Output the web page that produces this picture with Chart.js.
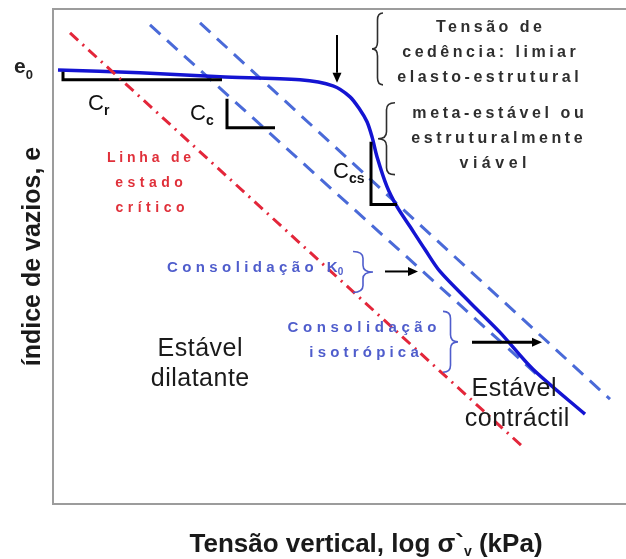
<!DOCTYPE html>
<html>
<head>
<meta charset="utf-8">
<script src="https://cdn.jsdelivr.net/npm/chart.js@4.4.1/dist/chart.umd.min.js"></script>
<style>
  html, body { margin: 0; padding: 0; background: #fff; }
  #wrap { width: 626px; height: 559px; }
</style>
</head>
<body>
<div id="wrap"><canvas id="curva"></canvas></div>
<script>
// curva de compressibilidade (x = log σ'v, y = e), unidades do esquema
const curveX = [5, 87, 167, 247, 280, 297, 307, 314, 319, 324, 334, 344, 357, 372, 387, 417, 447, 480, 532];
const curveY = [435, 432, 428, 425, 419, 408, 395, 383, 368, 348, 318, 298, 278, 255, 233, 202, 172, 135, 90];

// linhas de consolidação e de estado crítico
const k0X = [97, 487];
const k0Y = [480, 127];
const isoX = [147, 557];
const isoY = [482, 105];
const cslX = [17, 469];
const cslY = [472, 58];

// triângulos de inclinação Cr, Cc, Ccs
const crX = [10, 10, 169];
const crY = [433, 425, 425];
const ccX = [174, 174, 222];
const ccY = [406, 377, 377];
const ccsX = [318, 318, 344];
const ccsY = [363, 300, 300];

const FONT = "'Liberation Sans', Arial, sans-serif";

function pts(xs, ys) {
  return xs.map((v, i) => ({ x: v, y: ys[i] }));
}

function el(id) {
  return document.getElementById(id);
}

function lineDs(xs, ys, color, width, dash, tension) {
  return {
    data: pts(xs, ys),
    showLine: true,
    borderColor: color,
    borderWidth: width,
    borderDash: dash || [],
    pointRadius: 0,
    tension: tension || 0,
    fill: false
  };
}

function text(ctx, str, px, py, font, color, align, spacing) {
  ctx.save();
  ctx.font = font;
  ctx.fillStyle = color;
  ctx.textBaseline = "alphabetic";
  ctx.letterSpacing = (spacing || 0) + "px";
  const w = ctx.measureText(str).width;
  let x0 = px;
  if (align === "center") x0 = px - (w - (spacing || 0)) / 2;
  ctx.textAlign = "left";
  ctx.fillText(str, x0, py);
  ctx.restore();
  return x0 + w;
}

// letra com índice (e0, Cr, Cc ...)
function withSub(ctx, main, sub, px, py, font, subFont, color, drop) {
  const end = text(ctx, main, px, py, font, color, "left", 0);
  text(ctx, sub, end, py + drop, subFont, color, "left", 0);
}

function brace(ctx, xEnd, xTip, y1, y2, color) {
  const m = (y1 + y2) / 2;
  const xm = (xEnd + xTip) / 2;
  const r = Math.min(7, (y2 - y1) / 6);
  ctx.save();
  ctx.strokeStyle = color;
  ctx.lineWidth = 1.6;
  ctx.beginPath();
  ctx.moveTo(xEnd, y1);
  ctx.quadraticCurveTo(xm, y1, xm, y1 + r);
  ctx.lineTo(xm, m - r);
  ctx.quadraticCurveTo(xm, m, xTip, m);
  ctx.quadraticCurveTo(xm, m, xm, m + r);
  ctx.lineTo(xm, y2 - r);
  ctx.quadraticCurveTo(xm, y2, xEnd, y2);
  ctx.stroke();
  ctx.restore();
}

function arrow(ctx, x1, y1, x2, y2, width) {
  const ang = Math.atan2(y2 - y1, x2 - x1);
  const L = 10, H = 4.5;
  ctx.save();
  ctx.strokeStyle = "#000";
  ctx.fillStyle = "#000";
  ctx.lineWidth = width;
  ctx.beginPath();
  ctx.moveTo(x1, y1);
  ctx.lineTo(x2 - L * Math.cos(ang), y2 - L * Math.sin(ang));
  ctx.stroke();
  ctx.translate(x2, y2);
  ctx.rotate(ang);
  ctx.beginPath();
  ctx.moveTo(0, 0);
  ctx.lineTo(-L, -H);
  ctx.lineTo(-L, H);
  ctx.closePath();
  ctx.fill();
  ctx.restore();
}

const annotations = {
  id: "annotations",
  afterDatasetsDraw(chart) {
    const { ctx, chartArea: a, scales } = chart;
    const X = v => scales.x.getPixelForValue(v);
    const Y = v => scales.y.getPixelForValue(v);
    const red = "#e0303a";
    const blue = "#4f5dcc";
    const dark = "#2e2e2e";
    const ink = "#111";

    // e0
    withSub(ctx, "e", "0", X(-39), Y(432), "bold 21px " + FONT, "bold 13px " + FONT, "#222", 6);

    // Cr, Cc, Ccs
    const fc = "22px " + FONT, fs = "bold 14px " + FONT;
    withSub(ctx, "C", "r", X(35), Y(395), fc, fs, ink, 5);
    withSub(ctx, "C", "c", X(137), Y(385), fc, fs, ink, 5);
    withSub(ctx, "C", "cs", X(280), Y(327), fc, fs, ink, 5);

    // linha de estado crítico
    const fr = "bold 14px " + FONT;
    text(ctx, "Linha de", X(96), Y(343), fr, red, "center", 3.8);
    text(ctx, "estado", X(96), Y(318), fr, red, "center", 4.5);
    text(ctx, "crítico", X(97), Y(293), fr, red, "center", 4.5);

    // tensão de cedência
    const fd = "bold 16px " + FONT;
    text(ctx, "Tensão de", X(436), Y(473), fd, dark, "center", 3.5);
    text(ctx, "cedência: limiar", X(436), Y(448), fd, dark, "center", 3.5);
    text(ctx, "elasto-estrutural", X(435), Y(423), fd, dark, "center", 3.5);
    text(ctx, "meta-estável ou", X(445), Y(387), fd, dark, "center", 3.6);
    text(ctx, "estruturalmente", X(444), Y(362), fd, dark, "center", 3.6);
    text(ctx, "viável", X(440), Y(337), fd, dark, "center", 4.5);

    // consolidação
    const fb = "bold 15px " + FONT;
    const endK = text(ctx, "Consolidação ", X(114), Y(232), fb, blue, "left", 4.4);
    text(ctx, "K", endK, Y(232), fb, blue, "left", 0);
    text(ctx, "0", endK + 11, Y(232) + 3, "bold 10px " + FONT, blue, "left", 0);
    text(ctx, "Consolidação", X(309), Y(172), fb, blue, "center", 4.6);
    text(ctx, "isotrópica", X(311), Y(147), fb, blue, "center", 4.2);

    // regiões
    const fe = "25px " + FONT;
    text(ctx, "Estável", X(147), Y(148), fe, "#1a1a1a", "center", 0.5);
    text(ctx, "dilatante", X(147), Y(118), fe, "#1a1a1a", "center", 0.5);
    text(ctx, "Estável", X(461), Y(108), fe, "#1a1a1a", "center", 0.5);
    text(ctx, "contráctil", X(464), Y(78), fe, "#1a1a1a", "center", 0.5);

    // chavetas
    brace(ctx, X(330), X(319), Y(492), Y(420), dark);
    brace(ctx, X(342), X(325), Y(402), Y(330), dark);
    brace(ctx, X(300), X(320), Y(253), Y(212), blue);
    brace(ctx, X(390), X(405), Y(193), Y(132), blue);

    // setas
    arrow(ctx, X(284), Y(470), X(284), Y(422), 2);
    arrow(ctx, X(332), Y(233), X(365), Y(233), 2);
    arrow(ctx, X(419), Y(162), X(489), Y(162), 3);

    // títulos dos eixos
    ctx.save();
    ctx.translate(a.left - 22, (a.top + a.bottom) / 2);
    ctx.rotate(-Math.PI / 2);
    text(ctx, "índice de vazios, e", 0, 9, "bold 25px " + FONT, "#1a1a1a", "center", 0);
    ctx.restore();

    const ft = "bold 26px " + FONT;
    const fv = "bold 14px " + FONT;
    const p1 = "Tensão vertical, log σ`";
    const p3 = " (kPa)";
    ctx.save();
    ctx.font = ft;
    const w1 = ctx.measureText(p1).width;
    const w3 = ctx.measureText(p3).width;
    ctx.font = fv;
    const w2 = ctx.measureText("v").width;
    ctx.restore();
    const x0 = X(313) - (w1 + w2 + w3) / 2;
    const by = a.bottom + 48;
    text(ctx, p1, x0, by, ft, "#1a1a1a", "left", 0);
    text(ctx, "v", x0 + w1, by + 4, fv, "#1a1a1a", "left", 0);
    text(ctx, p3, x0 + w1 + w2, by, ft, "#1a1a1a", "left", 0);
  }
};

function initCurve() {
  const canvas = el("curva");
  const frame = { display: true, color: "#9c9c9c", width: 2 };
  const axis = (min, max, pos) => ({
    type: "linear",
    position: pos,
    min: min,
    max: max,
    ticks: { display: false },
    grid: { display: false, drawTicks: false, tickLength: 0 },
    border: frame
  });

  new Chart(canvas, {
    type: "scatter",
    data: {
      datasets: [
        lineDs(cslX, cslY, "#e3263a", 3, [11, 6, 2, 6]),
        lineDs(crX, crY, "#000", 3),
        lineDs(ccX, ccY, "#000", 3),
        lineDs(ccsX, ccsY, "#000", 3),
        lineDs(curveX, curveY, "#1414d2", 3.5, [], 0.3),
        lineDs(k0X, k0Y, "#4a6ad8", 3, [14, 9]),
        lineDs(isoX, isoY, "#4a6ad8", 3, [14, 9])
      ]
    },
    options: {
      responsive: true,
      maintainAspectRatio: false,
      animation: false,
      layout: { padding: { left: 53, top: 9, right: 0, bottom: 55 } },
      plugins: { legend: { display: false }, tooltip: { enabled: false } },
      scales: {
        x: axis(0, 573, "bottom"),
        x2: axis(0, 573, "top"),
        y: axis(0, 496, "left")
      }
    },
    plugins: [annotations]
  });
}

window.addEventListener("load", initCurve);
</script>
</body>
</html>
